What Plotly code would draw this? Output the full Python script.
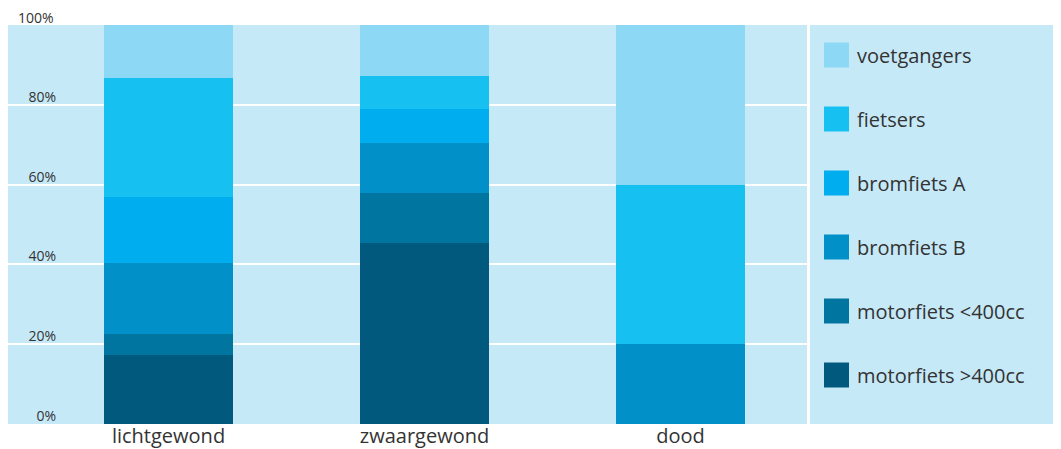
import plotly.graph_objects as go

categories = ["lichtgewond", "zwaargewond", "dood"]
series_names = ["motorfiets >400cc", "motorfiets <400cc", "bromfiets B", "bromfiets A", "fietsers", "voetgangers"]
motor_gt400 = [17.3, 45.4, 0]
motor_lt400 = [5.3, 12.5, 0]
bromfiets_b = [17.8, 12.5, 20]
bromfiets_a = [16.5, 8.5, 0]
fietsers = [29.8, 8.3, 40]
voetgangers = [13.3, 12.8, 40]
series_values = [motor_gt400, motor_lt400, bromfiets_b, bromfiets_a, fietsers, voetgangers]
colors = ["#015a7e", "#0075a0", "#0290c9", "#00adee", "#16c0f1", "#8dd8f5"]
tick_vals = [0, 20, 40, 60, 80]
tick_text = ["0%", "20%", "40%", "60%", "80%"]
top_tick_val = 100
top_tick_text = "100%"

FONT = "Open Sans"
TXT = "#333333"
BG = "#c6e9f8"

fig = go.Figure()
for name, vals, col in zip(series_names, series_values, colors):
    fig.add_trace(go.Bar(x=categories, y=vals, name=name, marker=dict(color=col, line=dict(width=0)),
                         showlegend=False, hoverinfo="skip"))

# page has an 8px body margin; figure coordinates = page coordinates - 8
OFF = 8
W, H = 1061 - OFF, 449 - OFF
L, R, T, B = 8 - OFF, 807 - OFF, 25 - OFF, 424 - OFF
pw, ph = R - L, B - T

def px2x(px):
    return (px - OFF - L) / pw

def py2y(py):
    return (B - (py - OFF)) / ph

shapes = [dict(type="rect", xref="paper", yref="paper", x0=px2x(810), x1=px2x(1070), y0=0, y1=1,
               fillcolor=BG, line=dict(width=0), layer="below")]
annotations = [dict(xref="paper", yref="y", x=px2x(56), y=top_tick_val, text=top_tick_text, showarrow=False,
                    xanchor="right", yanchor="middle", yshift=8, font=dict(family=FONT, size=14, color=TXT))]
legend_order = list(reversed(series_names))
legend_colors = list(reversed(colors))
for i, (nm, col) in enumerate(zip(legend_order, legend_colors)):
    cy = 55 + 64 * i
    shapes.append(dict(type="rect", xref="paper", yref="paper", x0=px2x(824), x1=px2x(849),
                       y0=py2y(cy + 12.5), y1=py2y(cy - 12.5), fillcolor=col, line=dict(width=0)))
    annotations.append(dict(xref="paper", yref="paper", x=px2x(855), y=py2y(cy), text=nm, showarrow=False,
                            xanchor="left", yanchor="middle", font=dict(family=FONT, size=20, color=TXT)))

fig.update_layout(
    width=W, height=H, barmode="stack", bargap=0.496,
    margin=dict(l=L, r=W - R, t=T, b=H - B, pad=0, autoexpand=False),
    paper_bgcolor="white", plot_bgcolor=BG,
    shapes=shapes, annotations=annotations,
    font=dict(family=FONT, color=TXT),
)
fig.update_xaxes(range=[-0.627, 2.494], showgrid=False, zeroline=False, showline=False, ticks="",
                 tickfont=dict(family=FONT, size=20, color=TXT), ticklabelstandoff=-2, automargin=False)
fig.update_yaxes(range=[0, 100], tickvals=tick_vals, ticktext=tick_text, showgrid=True, gridcolor="white",
                 gridwidth=2, zeroline=False, showline=False, ticks="",
                 tickfont=dict(family=FONT, size=14, color=TXT),
                 ticklabelstandoff=-49, ticklabelshift=-8, automargin=False)

fig.write_html("out.html", config={"displayModeBar": False})
